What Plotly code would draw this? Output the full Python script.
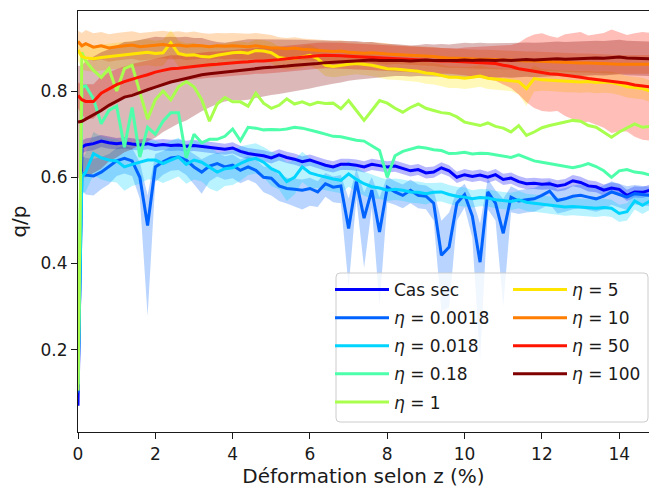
import numpy as np
import plotly.graph_objects as go

# strain grid (%)
X = [0.0, 0.1] + [round(0.2 * i, 1) for i in range(1, 75)]

LABELS = ["Cas sec", "<i>η</i> = 0.0018", "<i>η</i> = 0.018", "<i>η</i> = 0.18", "<i>η</i> = 1",
          "<i>η</i> = 5", "<i>η</i> = 10", "<i>η</i> = 50", "<i>η</i> = 100"]
COLORS = ['#0000ff', '#0063ff', '#00d4ff', '#4dffaa', '#a9ff4d',
          '#ffe500', '#ff7d00', '#ff1400', '#800000']

CAS_SEC = [0.07, 0.67,
           0.675, 0.678, 0.684, 0.68, 0.678,
           0.68, 0.677, 0.675, 0.678, 0.674,
           0.676, 0.674, 0.675, 0.672, 0.674,
           0.672, 0.670, 0.668, 0.665, 0.668,
           0.66, 0.655, 0.652, 0.65, 0.645,
           0.652, 0.646, 0.642, 0.636, 0.64,
           0.634, 0.628, 0.624, 0.630, 0.630,
           0.628, 0.624, 0.63, 0.627, 0.624,
           0.626, 0.62, 0.615, 0.618, 0.61,
           0.612, 0.622, 0.615, 0.60, 0.606,
           0.602, 0.605, 0.60, 0.606, 0.595,
           0.598, 0.59, 0.585, 0.586, 0.584,
           0.585, 0.58, 0.583, 0.592, 0.588,
           0.58, 0.578, 0.57, 0.575, 0.572,
           0.558, 0.566, 0.565, 0.57]
ERR_SEC = [0.0, 0.015,
           0.015, 0.015, 0.014, 0.014, 0.013,
           0.013, 0.013, 0.013, 0.013, 0.013,
           0.013, 0.013, 0.013, 0.013, 0.013,
           0.013, 0.013, 0.013, 0.013, 0.013,
           0.013, 0.013, 0.013, 0.013, 0.013,
           0.013, 0.013, 0.013, 0.013, 0.013,
           0.013, 0.013, 0.013, 0.013, 0.013,
           0.013, 0.013, 0.013, 0.013, 0.013,
           0.013, 0.013, 0.013, 0.013, 0.013,
           0.013, 0.013, 0.013, 0.013, 0.013,
           0.013, 0.013, 0.013, 0.013, 0.013,
           0.013, 0.013, 0.013, 0.013, 0.013,
           0.013, 0.013, 0.013, 0.013, 0.013,
           0.013, 0.013, 0.013, 0.013, 0.013,
           0.013, 0.013, 0.013, 0.013]

ETA_0018 = [0.10, 0.61,
            0.605, 0.603, 0.612, 0.624, 0.638,
            0.644, 0.638, 0.60, 0.488, 0.624,
            0.636, 0.645, 0.647, 0.64, 0.624,
            0.612, 0.626, 0.632, 0.624, 0.628,
            0.616, 0.624, 0.616, 0.60, 0.598,
            0.58, 0.574, 0.572, 0.57, 0.574,
            0.566, 0.585, 0.577, 0.58, 0.481,
            0.59, 0.505, 0.57, 0.473, 0.577,
            0.566, 0.558, 0.57, 0.558, 0.556,
            0.54, 0.419, 0.438, 0.54, 0.56,
            0.51, 0.403, 0.566, 0.54, 0.47,
            0.554, 0.545, 0.548, 0.55, 0.558,
            0.568, 0.546, 0.55, 0.556, 0.558,
            0.554, 0.55, 0.556, 0.566, 0.56,
            0.554, 0.562, 0.56, 0.558]
ERR_0018_LO = [0.0, 0.04,
               0.045, 0.045, 0.04, 0.04, 0.035,
               0.035, 0.035, 0.05, 0.21, 0.035,
               0.03, 0.03, 0.03, 0.035, 0.04,
               0.05, 0.035, 0.03, 0.03, 0.03,
               0.03, 0.03, 0.03, 0.035, 0.04,
               0.035, 0.035, 0.04, 0.045, 0.04,
               0.035, 0.03, 0.035, 0.04, 0.135,
               0.04, 0.115, 0.04, 0.17, 0.035,
               0.03, 0.03, 0.03, 0.03, 0.03,
               0.04, 0.13, 0.14, 0.04, 0.03,
               0.05, 0.23, 0.04, 0.04, 0.17,
               0.035, 0.03, 0.03, 0.03, 0.03,
               0.03, 0.03, 0.03, 0.03, 0.03,
               0.03, 0.03, 0.03, 0.03, 0.03,
               0.03, 0.025, 0.025, 0.025]
ERR_0018_HI = [0.0, 0.04,
               0.04, 0.04, 0.035, 0.03, 0.03,
               0.03, 0.03, 0.035, 0.07, 0.03,
               0.025, 0.025, 0.025, 0.025, 0.03,
               0.03, 0.025, 0.025, 0.025, 0.025,
               0.025, 0.025, 0.025, 0.025, 0.025,
               0.025, 0.025, 0.025, 0.025, 0.025,
               0.025, 0.025, 0.025, 0.025, 0.07,
               0.03, 0.06, 0.03, 0.08, 0.025,
               0.025, 0.025, 0.025, 0.025, 0.025,
               0.03, 0.08, 0.08, 0.03, 0.025,
               0.04, 0.09, 0.03, 0.03, 0.08,
               0.025, 0.025, 0.025, 0.025, 0.025,
               0.025, 0.025, 0.025, 0.025, 0.025,
               0.025, 0.025, 0.025, 0.025, 0.025,
               0.025, 0.02, 0.02, 0.02]

ETA_018 = [0.12, 0.60,
           0.612, 0.655, 0.645, 0.64, 0.638,
           0.624, 0.63, 0.635, 0.64, 0.64,
           0.632, 0.64, 0.647, 0.63, 0.64,
           0.635, 0.624, 0.612, 0.62, 0.622,
           0.632, 0.64, 0.644, 0.635, 0.62,
           0.612, 0.59, 0.60, 0.624, 0.61,
           0.605, 0.60, 0.596, 0.593, 0.608,
           0.595, 0.585, 0.578, 0.575, 0.57,
           0.572, 0.57, 0.566, 0.565, 0.562,
           0.565, 0.566, 0.56, 0.556, 0.554,
           0.55, 0.553, 0.552, 0.548, 0.546,
           0.544, 0.548, 0.542, 0.54, 0.538,
           0.536, 0.534, 0.531, 0.532, 0.531,
           0.53, 0.528, 0.53, 0.528, 0.516,
           0.52, 0.545, 0.535, 0.545]
ERR_018 = [0.0, 0.04,
           0.045, 0.05, 0.05, 0.05, 0.05,
           0.055, 0.05, 0.05, 0.045, 0.045,
           0.045, 0.045, 0.045, 0.045, 0.045,
           0.045, 0.05, 0.045, 0.04, 0.04,
           0.04, 0.035, 0.035, 0.035, 0.04,
           0.04, 0.045, 0.04, 0.035, 0.035,
           0.03, 0.03, 0.03, 0.03, 0.03,
           0.028, 0.028, 0.028, 0.025, 0.025,
           0.025, 0.025, 0.025, 0.025, 0.025,
           0.022, 0.022, 0.022, 0.022, 0.022,
           0.02, 0.02, 0.02, 0.02, 0.02,
           0.02, 0.02, 0.02, 0.02, 0.02,
           0.02, 0.02, 0.02, 0.02, 0.02,
           0.02, 0.02, 0.02, 0.02, 0.02,
           0.02, 0.02, 0.02, 0.02]

ETA_018B = [0.12, 0.81,
            0.812, 0.782, 0.724, 0.755, 0.765,
            0.67, 0.762, 0.647, 0.716, 0.70,
            0.73, 0.75, 0.75, 0.645, 0.70,
            0.68, 0.688, 0.688, 0.695, 0.712,
            0.685, 0.716, 0.714, 0.71, 0.711,
            0.71, 0.712, 0.716, 0.714, 0.71,
            0.705, 0.70, 0.695, 0.694, 0.69,
            0.686, 0.684, 0.672, 0.662, 0.60,
            0.65, 0.66, 0.665, 0.67, 0.668,
            0.664, 0.662, 0.655, 0.656, 0.658,
            0.654, 0.656, 0.655, 0.652, 0.648,
            0.646, 0.652, 0.645, 0.638, 0.635,
            0.632, 0.628, 0.625, 0.622, 0.626,
            0.632, 0.625, 0.615, 0.60, 0.615,
            0.618, 0.612, 0.61, 0.605]

ETA_1 = [0.105, 0.89,
         0.87, 0.848, 0.832, 0.852, 0.80,
         0.852, 0.86, 0.80, 0.735, 0.78,
         0.80, 0.78, 0.81, 0.822, 0.81,
         0.78, 0.73, 0.77, 0.785, 0.775,
         0.775, 0.765, 0.795, 0.772, 0.76,
         0.767, 0.782, 0.77, 0.775, 0.768,
         0.774, 0.771, 0.772, 0.759, 0.778,
         0.755, 0.732, 0.755, 0.778, 0.772,
         0.76, 0.751, 0.762, 0.77, 0.76,
         0.755, 0.75, 0.748, 0.74, 0.728,
         0.724, 0.72, 0.726, 0.718, 0.714,
         0.705, 0.72, 0.697, 0.705, 0.715,
         0.72, 0.724, 0.728, 0.732, 0.73,
         0.72, 0.716, 0.705, 0.693, 0.705,
         0.715, 0.724, 0.716, 0.718]

ETA_5 = [0.895, 0.88,
         0.877, 0.875, 0.878, 0.88, 0.882,
         0.885, 0.886, 0.888, 0.89, 0.887,
         0.889, 0.912, 0.887, 0.883, 0.884,
         0.88, 0.879, 0.883, 0.886, 0.889,
         0.89, 0.888, 0.894, 0.893, 0.889,
         0.878, 0.875, 0.876, 0.879, 0.883,
         0.875, 0.86, 0.857, 0.86, 0.862,
         0.864, 0.862, 0.86, 0.856, 0.852,
         0.851, 0.85, 0.848, 0.846, 0.842,
         0.84, 0.836, 0.832, 0.832, 0.83,
         0.832, 0.835, 0.83, 0.828, 0.827,
         0.825, 0.822, 0.806, 0.829, 0.826,
         0.825, 0.823, 0.822, 0.822, 0.821,
         0.822, 0.82, 0.821, 0.82, 0.816,
         0.81, 0.808, 0.806, 0.80]
ERR_5 = [0.025, 0.03,
         0.03, 0.03, 0.03, 0.03, 0.03,
         0.03, 0.03, 0.03, 0.03, 0.03,
         0.03, 0.03, 0.03, 0.028, 0.028,
         0.025, 0.025, 0.025, 0.025, 0.025,
         0.025, 0.025, 0.025, 0.025, 0.025,
         0.025, 0.025, 0.025, 0.025, 0.025,
         0.025, 0.025, 0.025, 0.025, 0.025,
         0.025, 0.025, 0.025, 0.025, 0.025,
         0.025, 0.025, 0.025, 0.025, 0.025,
         0.025, 0.025, 0.025, 0.025, 0.025,
         0.025, 0.025, 0.025, 0.025, 0.025,
         0.025, 0.03, 0.04, 0.03, 0.025,
         0.025, 0.025, 0.025, 0.025, 0.025,
         0.025, 0.025, 0.025, 0.025, 0.025,
         0.025, 0.025, 0.025, 0.025]

ETA_10 = [0.915, 0.905,
          0.91, 0.902, 0.905, 0.90, 0.903,
          0.905, 0.907, 0.903, 0.905, 0.906,
          0.908, 0.905, 0.907, 0.904, 0.906,
          0.905, 0.903, 0.905, 0.904, 0.905,
          0.904, 0.903, 0.905, 0.902, 0.90,
          0.90, 0.898, 0.90, 0.897, 0.896,
          0.895, 0.893, 0.892, 0.893, 0.89,
          0.889, 0.888, 0.889, 0.887, 0.886,
          0.885, 0.884, 0.884, 0.882, 0.881,
          0.88, 0.878, 0.876, 0.876, 0.875,
          0.875, 0.874, 0.874, 0.873, 0.872,
          0.872, 0.871, 0.87, 0.87, 0.869,
          0.868, 0.867, 0.866, 0.866, 0.865,
          0.865, 0.864, 0.864, 0.863, 0.862,
          0.862, 0.862, 0.863, 0.862]
ERR_10 = [0.025, 0.03,
          0.032, 0.032, 0.032, 0.032, 0.032,
          0.032, 0.032, 0.032, 0.032, 0.032,
          0.032, 0.032, 0.032, 0.032, 0.032,
          0.03, 0.03, 0.03, 0.03, 0.03,
          0.03, 0.03, 0.03, 0.03, 0.03,
          0.025, 0.025, 0.025, 0.025, 0.025,
          0.025, 0.025, 0.025, 0.025, 0.025,
          0.025, 0.025, 0.025, 0.025, 0.025,
          0.022, 0.022, 0.022, 0.022, 0.022,
          0.022, 0.022, 0.022, 0.022, 0.022,
          0.022, 0.022, 0.022, 0.022, 0.022,
          0.022, 0.022, 0.022, 0.022, 0.022,
          0.022, 0.022, 0.022, 0.022, 0.022,
          0.022, 0.022, 0.022, 0.022, 0.022,
          0.022, 0.022, 0.022, 0.022]

ETA_50 = [0.79, 0.78,
          0.776, 0.776, 0.795, 0.805, 0.815,
          0.822, 0.828, 0.833, 0.838, 0.844,
          0.848, 0.852, 0.853, 0.855, 0.857,
          0.86, 0.861, 0.862, 0.864, 0.866,
          0.867, 0.868, 0.87, 0.87, 0.871,
          0.873, 0.875, 0.877, 0.878, 0.88,
          0.882, 0.883, 0.883, 0.882, 0.881,
          0.88, 0.879, 0.878, 0.877, 0.876,
          0.875, 0.874, 0.873, 0.872, 0.871,
          0.871, 0.87, 0.87, 0.869, 0.869,
          0.868, 0.867, 0.866, 0.864, 0.86,
          0.857, 0.852, 0.849, 0.846, 0.844,
          0.84, 0.839, 0.837, 0.835, 0.832,
          0.829, 0.827, 0.825, 0.823, 0.821,
          0.818, 0.814, 0.812, 0.81]
ERR_50 = [0.03, 0.035,
          0.04, 0.04, 0.04, 0.038, 0.036,
          0.035, 0.035, 0.034, 0.033, 0.032,
          0.032, 0.031, 0.03, 0.03, 0.03,
          0.03, 0.03, 0.03, 0.03, 0.03,
          0.03, 0.03, 0.03, 0.03, 0.03,
          0.03, 0.03, 0.03, 0.03, 0.03,
          0.03, 0.03, 0.03, 0.03, 0.03,
          0.03, 0.03, 0.03, 0.03, 0.03,
          0.03, 0.03, 0.03, 0.03, 0.03,
          0.03, 0.03, 0.03, 0.03, 0.032,
          0.034, 0.036, 0.038, 0.04, 0.045,
          0.05, 0.06, 0.075, 0.085, 0.09,
          0.088, 0.085, 0.095, 0.10, 0.105,
          0.10, 0.105, 0.11, 0.12, 0.115,
          0.112, 0.12, 0.125, 0.125]

ETA_100 = [0.728, 0.73,
           0.735, 0.745, 0.755, 0.767, 0.776,
           0.786, 0.79, 0.797, 0.803, 0.809,
           0.815, 0.821, 0.825, 0.829, 0.833,
           0.838, 0.84, 0.842, 0.844, 0.847,
           0.848, 0.85, 0.852, 0.854, 0.855,
           0.856, 0.858, 0.86, 0.861, 0.862,
           0.864, 0.866, 0.867, 0.868, 0.87,
           0.871, 0.871, 0.872, 0.871, 0.871,
           0.872, 0.871, 0.87, 0.871, 0.872,
           0.871, 0.871, 0.87, 0.871, 0.872,
           0.871, 0.872, 0.871, 0.871, 0.872,
           0.871, 0.872, 0.873, 0.872, 0.873,
           0.874, 0.875, 0.874, 0.875, 0.876,
           0.876, 0.877, 0.876, 0.878, 0.879,
           0.877, 0.876, 0.876, 0.875]
ERR_100 = [0.13, 0.13,
           0.135, 0.135, 0.135, 0.13, 0.13,
           0.128, 0.125, 0.122, 0.12, 0.117,
           0.11, 0.105, 0.10, 0.097, 0.09,
           0.085, 0.078, 0.072, 0.068, 0.068,
           0.07, 0.07, 0.068, 0.066, 0.064,
           0.063, 0.062, 0.06, 0.058, 0.056,
           0.054, 0.052, 0.05, 0.048, 0.046,
           0.045, 0.043, 0.042, 0.04, 0.038,
           0.037, 0.036, 0.036, 0.036, 0.037,
           0.037, 0.038, 0.038, 0.039, 0.04,
           0.04, 0.04, 0.04, 0.04, 0.04,
           0.04, 0.04, 0.04, 0.04, 0.04,
           0.04, 0.04, 0.04, 0.04, 0.04,
           0.04, 0.04, 0.04, 0.04, 0.04,
           0.04, 0.04, 0.04, 0.04]

SERIES = [CAS_SEC, ETA_0018, ETA_018, ETA_018B, ETA_1, ETA_5, ETA_10, ETA_50, ETA_100]
# (lower offset, upper offset) per series, None = no band
BANDS = [(ERR_SEC, ERR_SEC), (ERR_0018_LO, ERR_0018_HI), (ERR_018, ERR_018), None, None,
         (ERR_5, ERR_5), (ERR_10, ERR_10), (ERR_50, ERR_50), (ERR_100, ERR_100)]


def rgba(hexc, a):
    h = hexc.lstrip('#')
    return 'rgba(%d,%d,%d,%.2f)' % (int(h[0:2], 16), int(h[2:4], 16), int(h[4:6], 16), a)


fig = go.Figure()

# shaded bands first (below every line, as in matplotlib)
for vals, band, col in zip(SERIES, BANDS, COLORS):
    if band is None:
        continue
    v = np.array(vals)
    lo = v - np.array(band[0])
    hi = v + np.array(band[1])
    fig.add_trace(go.Scatter(x=X, y=hi, mode='lines', line=dict(width=0, color=col),
                             showlegend=False, hoverinfo='skip'))
    fig.add_trace(go.Scatter(x=X, y=lo, mode='lines', line=dict(width=0, color=col),
                             fill='tonexty', fillcolor=rgba(col, 0.28),
                             showlegend=False, hoverinfo='skip'))

for i, (vals, lab, col) in enumerate(zip(SERIES, LABELS, COLORS)):
    fig.add_trace(go.Scatter(x=X, y=vals, mode='lines', name=lab,
                             line=dict(color=col, width=3),
                             legendgroup='g%d' % i,
                             legend='legend' if i < 5 else 'legend2'))

W, H = 649, 489
ML, MR, MT, MB = 78, 0, 11, 57
PW = W - ML - MR
PH = H - MT - MB


def px_x(p):
    return (p - ML) / PW


def px_y(p):
    return (H - MB - p) / PH


# legend frame with rounded corners (paper coordinates)
BX0, BX1, BY0, BY1, RAD = 336, 648, 273, 422, 4
rx, ry = RAD / PW, RAD / PH
x0, x1, yt, yb = px_x(BX0), px_x(BX1), px_y(BY0), px_y(BY1)
frame_path = (f"M{x0 + rx},{yt} L{x1 - rx},{yt} Q{x1},{yt} {x1},{yt - ry} "
              f"L{x1},{yb + ry} Q{x1},{yb} {x1 - rx},{yb} L{x0 + rx},{yb} "
              f"Q{x0},{yb} {x0},{yb + ry} L{x0},{yt - ry} Q{x0},{yt} {x0 + rx},{yt} Z")

FONT = 'DejaVu Sans'
fig.update_layout(
    width=W, height=H,
    margin=dict(l=ML, r=MR, t=MT, b=MB, autoexpand=False),
    plot_bgcolor='white', paper_bgcolor='white',
    font=dict(family=FONT, size=17, color='#1a1a1a'),
    xaxis=dict(range=[0, 14.77], tickvals=[0, 2, 4, 6, 8, 10, 12, 14],
               ticks='outside', ticklen=6, tickwidth=1.2, tickcolor='#1a1a1a',
               showline=True, linecolor='#1a1a1a', linewidth=1.2, mirror=True,
               showgrid=False, zeroline=False, automargin=False,
               title=dict(text='Déformation selon z (%)', font=dict(size=20), standoff=4)),
    yaxis=dict(range=[0.009, 0.9858], tickvals=[0.2, 0.4, 0.6, 0.8],
               ticktext=['0.2', '0.4', '0.6', '0.8'],
               ticks='outside', ticklen=6, tickwidth=1.2, tickcolor='#1a1a1a',
               showline=True, linecolor='#1a1a1a', linewidth=1.2, mirror=False,
               showgrid=False, zeroline=False, automargin=False,
               title=dict(text='q/p', font=dict(size=20), standoff=8)),
    legend=dict(x=px_x(330), y=px_y(272), xanchor='left', yanchor='top',
                bgcolor='rgba(0,0,0,0)', borderwidth=0, font=dict(size=17),
                tracegroupgap=3, itemwidth=54),
    legend2=dict(x=px_x(508), y=px_y(272), xanchor='left', yanchor='top',
                 bgcolor='rgba(0,0,0,0)', borderwidth=0, font=dict(size=17),
                 tracegroupgap=3, itemwidth=54),
    shapes=[dict(type='path', xref='paper', yref='paper', path=frame_path,
                 fillcolor='rgba(255,255,255,0.8)', line=dict(color='#cccccc', width=1),
                 layer='above')],
)

fig.write_html('out.html', config={'displayModeBar': False},
               post_script="document.body.style.margin='0';document.body.style.padding='0';")
